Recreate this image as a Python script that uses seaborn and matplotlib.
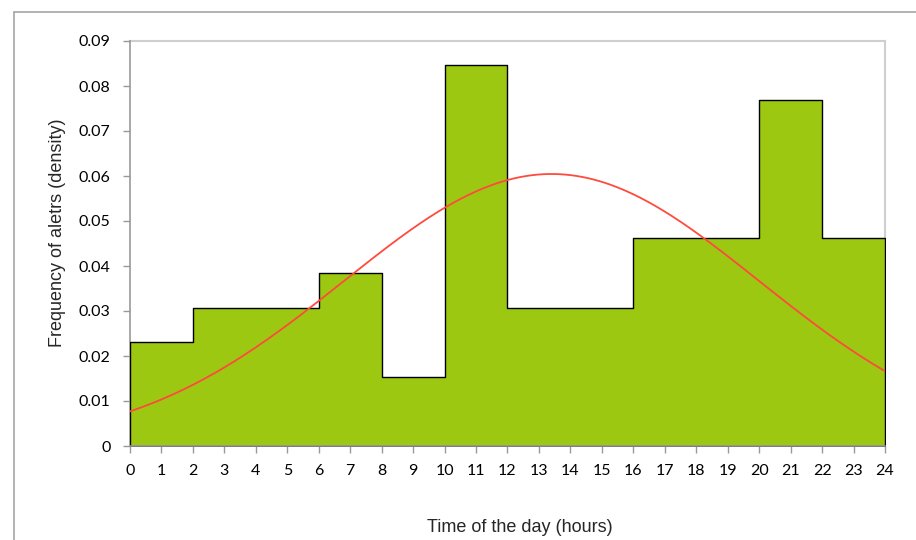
import numpy as np
import pandas as pd
import matplotlib
matplotlib.use("Agg")
import matplotlib.pyplot as plt
from matplotlib.lines import Line2D
import seaborn as sns

# Data
bin_edges = [0, 2, 6, 8, 10, 12, 16, 20, 22, 24]
bin_counts = [3, 8, 5, 2, 11, 8, 12, 10, 6]
fit_mean = 13.4
fit_sd = 6.6
x_ticks = list(range(0, 25))
y_ticks = [0, 0.01, 0.02, 0.03, 0.04, 0.05, 0.06, 0.07, 0.08, 0.09]
y_tick_labels = ["0", "0.01", "0.02", "0.03", "0.04", "0.05", "0.06", "0.07", "0.08", "0.09"]

mids = [(a + b) / 2 for a, b in zip(bin_edges[:-1], bin_edges[1:])]
df = pd.DataFrame({"hour": mids, "count": bin_counts})

sns.set_style("white")
plt.rcParams["font.family"] = ["Lato", "DejaVu Sans"]

fig = plt.figure(figsize=(9.16, 5.40), dpi=100)
ax = fig.add_axes([130 / 916, 1 - 446 / 540, (885 - 130) / 916, (446 - 41) / 540])

sns.histplot(data=df, x="hour", weights="count", bins=bin_edges, stat="density",
             element="step", color="#9DC812", edgecolor="black", linewidth=1.0,
             alpha=1.0, ax=ax)

xs = np.linspace(0, 24, 400)
pdf = np.exp(-0.5 * ((xs - fit_mean) / fit_sd) ** 2) / (fit_sd * np.sqrt(2 * np.pi))
sns.lineplot(x=xs, y=pdf, color="#FF4A3D", linewidth=1.3, ax=ax)

ax.set_xlim(0, 24)
ax.set_ylim(0, 0.09)
ax.set_xticks(x_ticks)
ax.set_xticklabels([str(t) for t in x_ticks], fontsize=11.5)
ax.set_yticks(y_ticks)
ax.set_yticklabels(y_tick_labels, fontsize=11.5)
ax.tick_params(axis="both", direction="out", length=5, width=1, color="#999999",
               bottom=True, left=True, labelcolor="black")
ax.tick_params(axis="y", pad=9)
ax.tick_params(axis="x", pad=8)
ax.set_xlabel("")
ax.set_ylabel("")

ax.spines["bottom"].set_color("#999999")
ax.spines["bottom"].set_linewidth(1.2)
ax.spines["bottom"].set_zorder(3)
ax.spines["left"].set_color("#999999")
ax.spines["left"].set_linewidth(1.2)
ax.spines["left"].set_zorder(0.5)
for side in ["top", "right"]:
    ax.spines[side].set_color("#CFCFCF")
    ax.spines[side].set_linewidth(1.5)
    ax.spines[side].set_zorder(0)

fig.text(520 / 916, 1 - 527 / 540, "Time of the day (hours)", ha="center", va="center",
         fontsize=13, family=["Liberation Sans", "DejaVu Sans"])
fig.text(57 / 916, 1 - 233 / 540, "Frequency of aletrs (density)", ha="center", va="center",
         rotation=90, fontsize=13, family=["Liberation Sans", "DejaVu Sans"])

# outer chart frame
fig.add_artist(Line2D([14 / 916, 14 / 916], [0, 1 - 12 / 540], transform=fig.transFigure,
                      color="#A6A6A6", linewidth=1.2))
fig.add_artist(Line2D([14 / 916, 1], [1 - 12 / 540, 1 - 12 / 540], transform=fig.transFigure,
                      color="#A6A6A6", linewidth=1.2))

fig.savefig("out.png", dpi=100)
